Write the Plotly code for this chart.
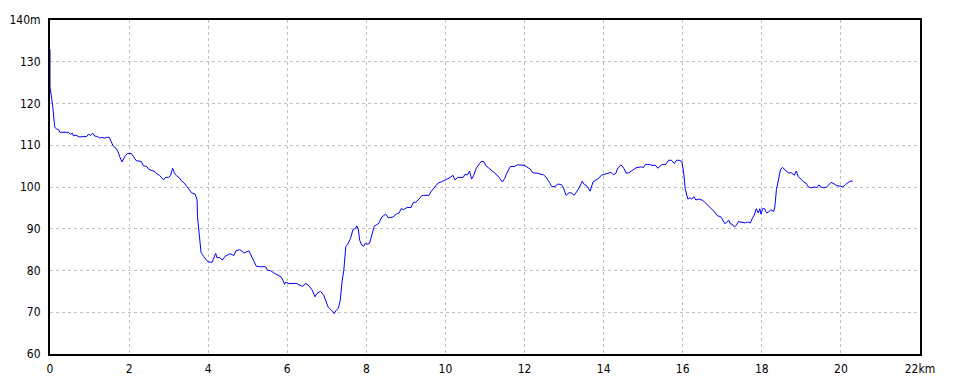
import plotly.graph_objects as go

# Elevation profile: distance (km) and altitude (m)
distance_km = [
    0.0, 0.0, 0.0, 0.07, 0.1, 0.12, 0.17, 0.22, 0.25, 0.47, 0.52, 0.56, 0.59, 0.66, 0.74, 0.93,
    0.98, 1.02, 1.08, 1.13, 1.2, 1.26, 1.31, 1.37, 1.43, 1.5, 1.55, 1.6, 1.67, 1.72, 1.77, 1.82,
    1.89, 1.96, 2.06, 2.12, 2.18, 2.31, 2.36, 2.45, 2.5, 2.65, 2.71, 2.77, 2.82, 2.87, 2.92, 3.0,
    3.05, 3.1, 3.15, 3.2, 3.27, 3.32, 3.39, 3.46, 3.54, 3.58, 3.67, 3.72, 3.73, 3.77, 3.8, 3.82,
    3.89, 3.97, 4.02, 4.1, 4.19, 4.22, 4.29, 4.36, 4.43, 4.55, 4.65, 4.7, 4.8, 4.91, 5.03, 5.08,
    5.15, 5.22, 5.32, 5.45, 5.5, 5.59, 5.66, 5.74, 5.84, 5.89, 5.93, 5.96, 6.04, 6.23, 6.3, 6.38,
    6.47, 6.57, 6.63, 6.7, 6.75, 6.84, 6.92, 7.0, 7.04, 7.07, 7.12, 7.19, 7.24, 7.29, 7.34, 7.39,
    7.43, 7.48, 7.53, 7.6, 7.66, 7.73, 7.76, 7.8, 7.83, 7.88, 7.93, 7.97, 8.02, 8.08, 8.13, 8.2,
    8.27, 8.32, 8.39, 8.49, 8.56, 8.67, 8.76, 8.83, 8.88, 8.94, 9.03, 9.13, 9.18, 9.25, 9.31, 9.4,
    9.45, 9.58, 9.65, 9.74, 9.82, 9.89, 9.95, 10.02, 10.12, 10.19, 10.24, 10.31, 10.45, 10.49, 10.56, 10.61,
    10.66, 10.71, 10.78, 10.83, 10.9, 10.97, 11.02, 11.09, 11.15, 11.24, 11.3, 11.37, 11.44, 11.5, 11.55, 11.64,
    11.74, 11.82, 11.92, 11.99, 12.06, 12.14, 12.21, 12.32, 12.48, 12.54, 12.63, 12.69, 12.78, 12.83, 12.93, 12.98,
    13.05, 13.12, 13.19, 13.25, 13.3, 13.38, 13.46, 13.51, 13.58, 13.66, 13.73, 13.79, 13.84, 13.89, 13.94, 14.03,
    14.12, 14.19, 14.25, 14.31, 14.36, 14.44, 14.51, 14.57, 14.64, 14.72, 14.82, 14.93, 15.01, 15.06, 15.16, 15.25,
    15.3, 15.37, 15.43, 15.48, 15.57, 15.64, 15.71, 15.79, 15.84, 15.91, 15.98, 16.03, 16.06, 16.1, 16.13, 16.18,
    16.23, 16.28, 16.33, 16.42, 16.5, 16.55, 16.62, 16.71, 16.79, 16.88, 16.96, 17.01, 17.07, 17.12, 17.17, 17.2,
    17.25, 17.31, 17.36, 17.41, 17.51, 17.58, 17.64, 17.71, 17.76, 17.81, 17.86, 17.91, 17.95, 17.98, 18.02, 18.07,
    18.12, 18.17, 18.23, 18.3, 18.33, 18.37, 18.42, 18.47, 18.52, 18.6, 18.67, 18.75, 18.82, 18.87, 18.92, 18.99,
    19.06, 19.12, 19.17, 19.24, 19.34, 19.39, 19.44, 19.5, 19.57, 19.64, 19.7, 19.75, 19.8, 19.85, 19.9, 19.99,
    20.05, 20.12, 20.18, 20.23, 20.3,
]
altitude_m = [
    133, 130, 124, 119.2, 116, 114.3, 113.9, 113.7, 113.1, 113.1, 112.6, 112.9, 112.3, 112.4, 112.0, 112.1,
    112.7, 112.3, 112.9, 112.2, 112.1, 111.7, 111.9, 111.7, 111.9, 111.9, 110.8, 109.8, 109.3, 108.4, 107.1, 106.0,
    107.3, 108.0, 108.0, 107.1, 106.3, 106.1, 105.1, 104.9, 104.2, 103.7, 103.1, 102.8, 102.3, 101.7, 102.3, 102.3,
    102.8, 104.5, 103.3, 102.7, 102.2, 101.5, 101.0, 100.1, 99.0, 98.6, 98.3, 96.9, 92.9, 88.1, 85.7, 84.3,
    83.3, 82.3, 82.0, 82.0, 84.1, 83.1, 83.1, 82.5, 83.4, 84.0, 83.6, 84.7, 85.0, 84.2, 84.7, 83.7,
    82.6, 81.0, 80.9, 80.9, 80.1, 79.9, 79.4, 79.0, 78.5, 77.7, 76.7, 77.2, 76.9, 76.9, 76.5, 76.2,
    76.9, 76.1, 75.3, 73.7, 74.5, 75.0, 74.1, 72.3, 71.1, 70.9, 70.5, 69.7, 70.5, 70.9, 72.9, 77.7,
    80.1, 85.7, 86.3, 87.7, 89.8, 90.1, 90.7, 89.7, 87.3, 86.1, 85.8, 86.5, 86.3, 86.5, 88.5, 90.6,
    91.0, 91.4, 92.8, 93.5, 92.6, 92.8, 93.5, 93.8, 94.8, 94.6, 95.1, 95.1, 96.2, 96.4, 96.9, 97.9,
    98.0, 98.0, 99.1, 100.2, 101.0, 101.2, 101.4, 101.8, 102.3, 102.8, 101.7, 102.3, 102.3, 103.0, 102.9, 103.8,
    101.9, 102.7, 104.5, 105.3, 106.1, 106.1, 105.1, 104.6, 104.1, 103.5, 102.9, 102.1, 101.2, 102.1, 103.3, 104.9,
    104.9, 105.3, 105.2, 105.2, 104.8, 104.3, 103.4, 103.3, 102.9, 102.4, 101.1, 100.1, 100.1, 100.7, 100.6, 99.9,
    98.0, 98.6, 98.6, 98.0, 98.6, 99.8, 101.4, 100.6, 100.2, 99.0, 101.2, 101.6, 102.0, 102.2, 102.8, 103.1,
    103.3, 103.5, 102.9, 103.3, 104.6, 105.3, 104.5, 103.3, 103.4, 104.0, 104.6, 104.8, 104.7, 105.4, 105.4, 105.1,
    105.3, 104.5, 105.1, 105.4, 105.4, 106.4, 106.4, 105.6, 106.4, 106.4, 106.1, 102.9, 99.7, 98.1, 97.1, 97.4,
    97.1, 97.7, 96.9, 97.1, 96.8, 96.4, 95.8, 95.0, 94.2, 93.1, 92.9, 92.1, 91.2, 91.7, 92.0, 91.2,
    91.1, 90.4, 90.9, 91.7, 91.5, 91.4, 91.6, 91.4, 92.5, 93.3, 94.8, 93.8, 94.8, 93.5, 94.8, 94.8,
    93.8, 94.0, 94.6, 94.1, 95.3, 99.4, 101.7, 104.1, 104.7, 104.1, 103.4, 103.4, 102.8, 103.8, 102.5, 101.9,
    101.2, 100.9, 100.1, 99.8, 100.0, 99.8, 100.5, 100.0, 99.8, 100.0, 100.6, 101.1, 100.9, 100.6, 100.3, 100.2,
    100.0, 100.6, 101.1, 101.4, 101.4,
]

x_ticks = [0, 2, 4, 6, 8, 10, 12, 14, 16, 18, 20, 22]
x_tick_labels = ["0", "2", "4", "6", "8", "10", "12", "14", "16", "18", "20", "22km"]
y_ticks = [60, 70, 80, 90, 100, 110, 120, 130, 140]
y_tick_labels = ["60", "70", "80", "90", "100", "110", "120", "130", "140m"]

fig = go.Figure()
fig.add_trace(go.Scatter(
    x=distance_km, y=altitude_m, mode="lines",
    line=dict(color="#0000ff", width=1),
    hoverinfo="skip", showlegend=False,
))

axis_font = dict(family="DejaVu Sans Condensed, Liberation Sans, sans-serif", size=12, color="#000000")

fig.update_layout(
    width=960, height=384,
    margin=dict(l=50, r=40, t=20, b=30, pad=0),
    paper_bgcolor="#ffffff", plot_bgcolor="#ffffff",
    xaxis=dict(
        range=[0, 22], tickmode="array", tickvals=x_ticks, ticktext=x_tick_labels,
        showline=True, linecolor="#000000", linewidth=2, mirror=True,
        showgrid=True, gridcolor="#c0c0c0", griddash="3px,3px", gridwidth=1,
        zeroline=False, ticks="", tickfont=axis_font, ticklabelstandoff=3,
        automargin=False,
    ),
    yaxis=dict(
        range=[60, 140], tickmode="array", tickvals=y_ticks, ticktext=y_tick_labels,
        showline=True, linecolor="#000000", linewidth=2, mirror=True,
        showgrid=True, gridcolor="#c0c0c0", griddash="3px,3px", gridwidth=1,
        zeroline=False, ticks="", tickfont=axis_font, ticklabelstandoff=5,
        automargin=False,
    ),
)

fig.write_html("out.html")
